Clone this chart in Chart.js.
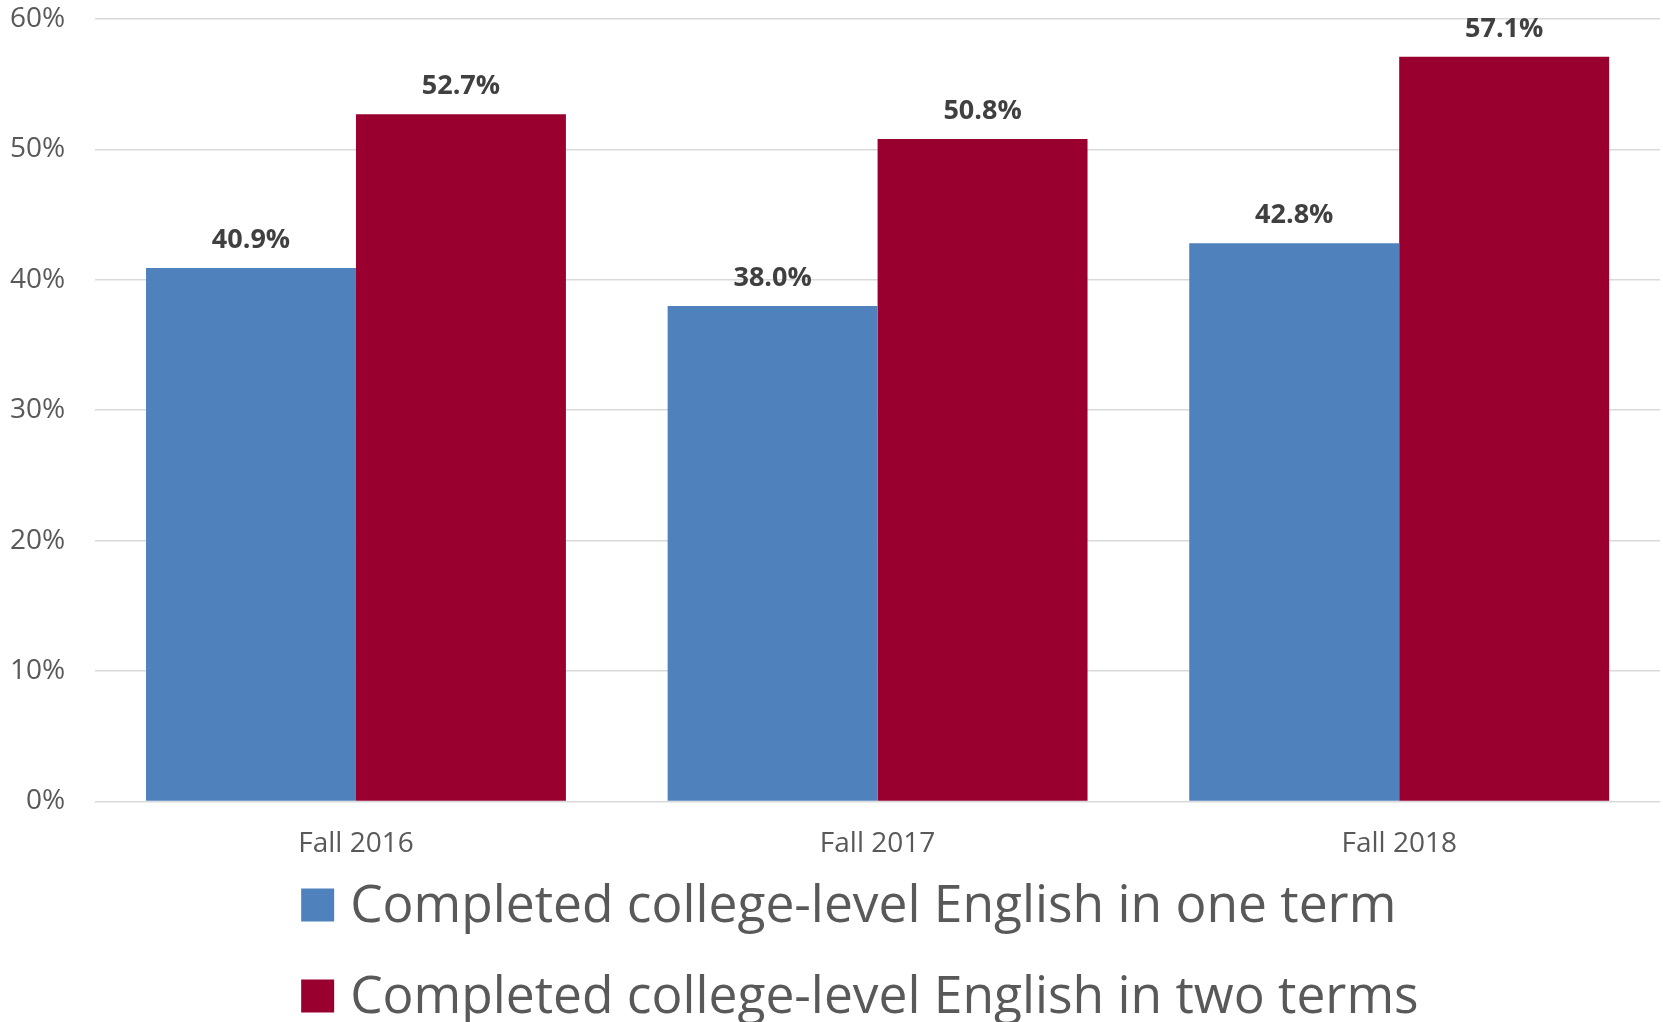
<!DOCTYPE html>
<html>
<head>
<meta charset="utf-8">
<script src="https://cdn.jsdelivr.net/npm/chart.js@4/dist/chart.umd.min.js"></script>
<style>
  html, body { margin: 0; padding: 0; background: #fff; }
  #wrap { width: 1663px; height: 1022px; }
</style>
</head>
<body>
<div id="wrap"><canvas id="englishChart"></canvas></div>
<script>
// Cohorts on the x axis
const terms = ['Fall 2016', 'Fall 2017', 'Fall 2018'];

// Completion rates (%)
const oneTerm = [40.9, 38.0, 42.8];
const twoTerms = [52.7, 50.8, 57.1];

const seriesNames = [
    'Completed college-level English in one term',
    'Completed college-level English in two terms'
];

// y axis ticks, percent
const yMax = 60;
const yStep = 10;

const FONT = "'Open Sans', sans-serif";

// value labels above each bar
const barValueLabels = {
    id: 'barValueLabels',
    afterDatasetsDraw(chart) {
        const ctx = chart.ctx;
        ctx.save();
        ctx.font = `bold 27px ${FONT}`;
        ctx.fillStyle = '#404040';
        ctx.textAlign = 'center';
        ctx.textBaseline = 'alphabetic';
        chart.data.datasets.forEach((ds, i) => {
            chart.getDatasetMeta(i).data.forEach((bar, j) => {
                ctx.fillText(ds.data[j].toFixed(1) + '%', bar.x, bar.y - 20);
            });
        });
        ctx.restore();
    }
};

// stacked legend rows, left aligned
const stackedLegend = {
    id: 'stackedLegend',
    afterDraw(chart) {
        const ctx = chart.ctx;
        const left = chart.chartArea.left + 206;
        const firstRow = 905;
        const rowGap = 91;
        const box = 33;
        ctx.save();
        ctx.font = `51.5px ${FONT}`;
        ctx.textBaseline = 'middle';
        ctx.textAlign = 'left';
        chart.data.datasets.forEach((ds, i) => {
            const y = firstRow + i * rowGap;
            ctx.fillStyle = ds.backgroundColor;
            ctx.fillRect(left, y - box / 2, box, box);
            ctx.fillStyle = '#595959';
            ctx.fillText(ds.label, left + box + 16, y + 2);
        });
        ctx.restore();
    }
};

const ctxEnglish = document.getElementById('englishChart').getContext('2d');
new Chart(ctxEnglish, {
    type: 'bar',
    data: {
        labels: terms,
        datasets: [
            {
                label: seriesNames[0],
                data: oneTerm,
                backgroundColor: '#4F81BD',
                borderWidth: 0,
                categoryPercentage: 0.805,
                barPercentage: 1.0
            },
            {
                label: seriesNames[1],
                data: twoTerms,
                backgroundColor: '#990030',
                borderWidth: 0,
                categoryPercentage: 0.805,
                barPercentage: 1.0
            }
        ]
    },
    options: {
        responsive: true,
        maintainAspectRatio: false,
        animation: false,
        layout: { padding: { top: 19, left: 10, right: 3, bottom: 135 } },
        scales: {
            y: {
                min: 0,
                max: yMax,
                ticks: {
                    stepSize: yStep,
                    padding: 0,
                    color: '#595959',
                    font: { family: FONT, size: 28 },
                    callback: v => v + '%'
                },
                // invisible tick marks keep the labels clear of the grid
                grid: {
                    color: '#D9D9D9',
                    lineWidth: 1.5,
                    drawTicks: true,
                    tickLength: 30,
                    tickColor: 'rgba(0,0,0,0)'
                },
                border: { display: false }
            },
            x: {
                ticks: {
                    padding: 26,
                    color: '#595959',
                    font: { family: FONT, size: 28 }
                },
                grid: { display: false, drawTicks: false },
                border: { display: false }
            }
        },
        plugins: {
            legend: { display: false },
            tooltip: { enabled: false }
        }
    },
    plugins: [barValueLabels, stackedLegend]
});
</script>
</body>
</html>
